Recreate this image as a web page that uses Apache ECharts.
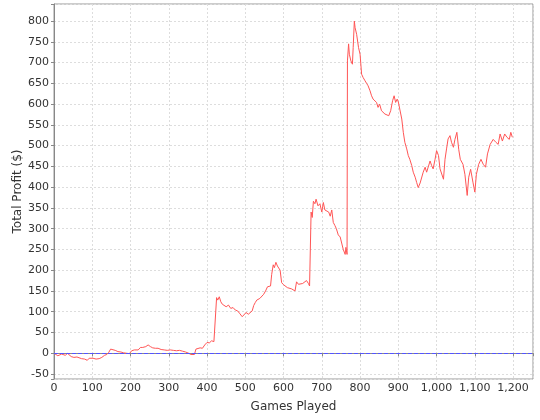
<!DOCTYPE html>
<html>
<head>
<meta charset="utf-8">
<script src="https://cdn.jsdelivr.net/npm/echarts@6/dist/echarts.min.js"></script>
<style>html,body{margin:0;padding:0;background:#fff;}#c{width:540px;height:420px;}</style>
</head>
<body>
<div id="c"></div>
<script>
var games = [0,5,10,15,20,25,30,35,40,45,52,60,65,72,80,87,92,97,102,110,118,125,132,138,143,148,153,160,167,175,182,190,197,203,210,215,220,226,232,240,246,252,258,265,272,280,288,296,304,312,320,328,336,344,352,358,363,367,371,376,382,388,394,400,406,412,418,423,425,428,432,436,440,445,450,456,462,468,474,480,486,492,497,502,508,513,518,522,526,530,534,538,543,548,553,558,562,566,569,573,576,580,584,587,591,595,600,605,610,615,621,626,630,634,639,644,650,655,660,665,668,672,675,678,682,685,690,695,700,704,708,713,718,722,726,730,734,738,743,748,752,756,761,763,766,767,770,772,776,780,782,785,787,791,796,800,804,808,813,817,821,826,830,834,838,843,847,851,856,860,865,870,875,880,885,889,893,897,900,904,909,913,917,922,926,930,935,939,944,948,952,957,961,965,970,974,978,983,987,991,996,1000,1003,1005,1009,1013,1018,1022,1026,1030,1035,1039,1044,1048,1053,1058,1062,1069,1074,1080,1084,1089,1095,1100,1104,1110,1116,1122,1128,1133,1140,1148,1155,1161,1166,1172,1178,1184,1190,1194,1198];
var profit = [0,-3,-6,-4,-2,-6,-5,0,-4,-8,-10,-9,-12,-13,-14,-17,-12,-14,-12,-14,-13,-10,-5,-3,2,10,8,7,4,3,1,0,-1,6,8,6,8,14,14,16,20,16,13,12,12,9,8,7,8,7,6,7,5,3,0,-3,-4,-3,10,12,13,12,20,26,25,30,28,32,134,128,136,124,118,122,112,116,108,110,104,102,95,88,90,98,94,90,102,115,122,128,124,132,128,142,150,160,156,162,190,213,206,219,210,214,200,170,165,162,158,160,155,158,150,172,166,170,168,172,175,168,162,340,327,366,360,371,355,360,340,363,345,345,340,330,345,315,308,300,285,280,278,250,238,255,238,704,745,720,704,696,736,800,784,768,736,720,672,664,656,650,644,632,620,612,610,604,592,600,584,580,576,578,572,584,608,620,604,612,605,604,564,532,508,492,476,467,452,436,424,411,399,410,408,436,448,436,440,463,452,444,467,488,492,476,444,448,419,467,492,516,524,508,496,515,532,490,467,455,431,380,424,443,412,388,431,455,467,455,448,480,503,515,508,503,528,511,528,520,515,532,520];
var xAxisName = 'Games Played';
var yAxisName = 'Total Profit ($)';

var seriesData = games.map(function(g, i){ return [g, profit[i]]; });
var chart = echarts.init(document.getElementById('c'), null, {renderer:'canvas'});
var font = 'DejaVu Sans';
chart.setOption({
  animation: false,
  backgroundColor: '#ffffff',
  grid: {left: 54, right: 7, top: 4, bottom: 41, show: true, borderColor: '#999999', borderWidth: 1, backgroundColor: '#ffffff'},
  xAxis: {
    type: 'value', min: 0, max: 1252, interval: 100,
    name: xAxisName, nameLocation: 'middle', nameGap: 22,
    nameTextStyle: {fontFamily: font, fontSize: 12, color: '#333'},
    axisLine: {show: true, lineStyle: {color: '#888888'}},
    axisTick: {show: true, length: 3, lineStyle: {color: '#888888'}},
    axisLabel: {fontFamily: font, fontSize: 11, color: '#333', margin: 4,
      formatter: function(v){ return (v % 100 === 0 && v <= 1200) ? v.toLocaleString('en-US') : ''; }},
    splitLine: {show: true, lineStyle: {color: '#dddddd', type: [2,2]}}
  },
  yAxis: {
    type: 'value', min: -62, max: 841, splitNumber: 18,
    name: yAxisName, nameLocation: 'middle', nameGap: 30, nameRotate: 90, nameMoveOverlap: false,
    nameTextStyle: {fontFamily: font, fontSize: 12, color: '#333'},
    axisLine: {show: true, lineStyle: {color: '#888888'}},
    axisTick: {show: true, length: 3, lineStyle: {color: '#888888'}},
    axisLabel: {fontFamily: font, fontSize: 11, color: '#333', margin: 5,
      formatter: function(v){ return (Math.abs(v % 50) < 1e-6) ? String(v) : ''; }},
    splitLine: {show: true, lineStyle: {color: '#dddddd', type: [2,2]}}
  },
  series: [{
    type: 'line', data: seriesData, showSymbol: false, symbol: 'none',
    lineStyle: {color: '#ff5555', width: 1},
    markLine: {silent: true, symbol: 'none', label: {show: false},
      lineStyle: {color: '#5555ff', width: 1, type: [4,2]},
      data: [{yAxis: 0}]}
  }]
});
</script>
</body>
</html>
